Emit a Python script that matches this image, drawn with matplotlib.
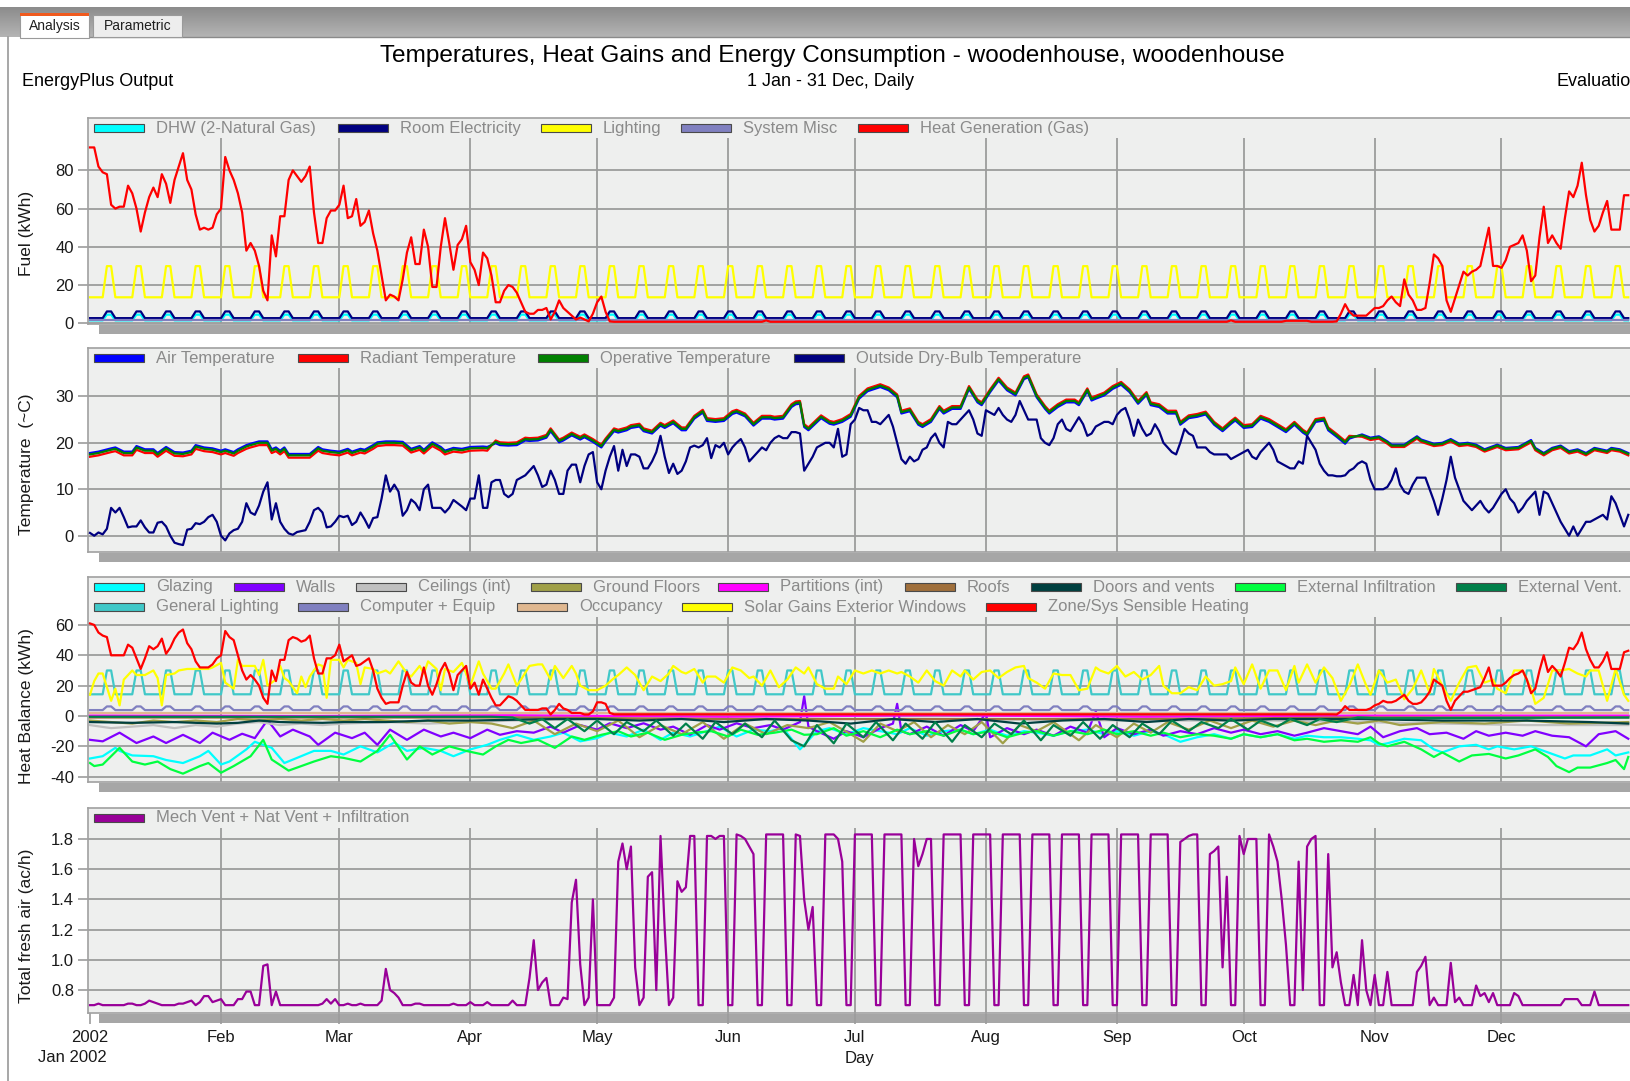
import numpy as np
import pandas as pd
import matplotlib
matplotlib.use('Agg')
import matplotlib.pyplot as plt
from matplotlib.patches import Rectangle
from matplotlib.lines import Line2D
from matplotlib.colors import LinearSegmentedColormap

plt.rcParams['font.family'] = ['Liberation Sans', 'DejaVu Sans']

# ---------------- data (day 0 = 1 Jan 2002) ----------------
month_days = [0, 31, 59, 90, 120, 151, 181, 212, 243, 273, 304, 334]
month_labels = ['2002', 'Feb', 'Mar', 'Apr', 'May', 'Jun', 'Jul', 'Aug', 'Sep', 'Oct', 'Nov', 'Dec']

# weekly schedules, Mon..Sun
dhw_week = [1.5, 1.5, 1.5, 1.5, 1.5, 4.5, 4.5]
room_elec_week = [2.7, 2.7, 2.7, 2.7, 2.7, 6.2, 6.2]
lighting_week = [13.6, 13.6, 13.6, 13.6, 13.6, 29.9, 29.9]
sys_misc_week = [1.5, 1.5, 1.5, 1.5, 1.5, 1.5, 1.5]
gen_light_week = [14.3, 14.3, 14.3, 14.3, 14.3, 30.0, 30.0]
computer_week = [3.9, 3.9, 3.9, 3.9, 3.9, 6.3, 6.3]

# Heat Generation (Gas), kWh
heat_gen_early = [92, 92, 82, 79, 78, 62, 60, 61, 61, 72,
                  68, 60, 48, 58, 66, 71, 66, 78, 73, 63,
                  75, 82, 89, 75, 70, 57, 49, 50, 49, 50,
                  57, 60, 87, 80, 75, 68, 58, 38, 42, 38,
                  30, 17, 12, 46, 35, 56, 56, 75, 80, 77,
                  74, 77, 82, 58, 42, 42, 55, 59, 59, 62,
                  72, 55, 56, 65, 51, 53, 59, 47, 38, 25,
                  12, 15, 14, 12, 23, 37, 45, 31, 31, 49,
                  40, 19, 19, 40, 55, 42, 28, 41, 44, 51,
                  32, 28, 20, 37, 34, 25, 11, 11, 17, 20,
                  19, 16, 11, 6, 5, 5, 7, 7, 8, 2,
                  6, 12, 8, 6, 4, 2, 3, 2, 1, 5,
                  11, 14, 6, 1, 0.8]
heat_gen_summer = [(150, 0.8), (159, 0.8), (160, 1.5), (161, 0.8), (200, 0.8), (269, 0.8),
                   (270, 1.5), (271, 0.8), (282, 0.8), (283, 1.3), (288, 1.3), (289, 0.8), (294, 0.8)]
heat_gen_late = [1, 5, 10, 6, 4, 4, 4, 4, 6, 8,
                 8, 9, 12, 14, 11, 9, 23, 15, 12, 7,
                 7, 8, 21, 36, 34, 30, 12, 6, 13, 20,
                 27, 25, 27, 28, 30, 40, 50, 30, 30, 29,
                 33, 40, 41, 42, 46, 38, 22, 25, 45, 61,
                 42, 46, 42, 39, 55, 69, 66, 72, 84, 67,
                 54, 48, 51, 58, 64, 49, 49, 49, 67, 67]

# Temperatures
temp_days = [0, 2, 5, 6, 8, 10, 11, 13, 15, 16, 18, 20, 22, 24, 25, 27, 29, 31, 32, 34,
             35, 37, 38, 40, 42, 43, 44, 45, 46, 47, 49, 51, 52, 54, 55, 57, 59, 61, 62, 64,
             65, 67, 68, 70, 72, 74, 76, 78, 79, 81, 83, 84, 86, 88, 90, 93, 94, 96, 97, 99,
             101, 103, 104, 106, 108, 109, 111, 112, 114, 116, 117, 119, 121, 122, 124, 125, 127, 128, 130, 131,
             133, 135, 136, 138, 140, 141, 143, 145, 146, 148, 150, 152, 153, 155, 157, 159, 161, 162, 164, 166,
             167, 168, 169, 170, 173, 175, 176, 178, 180, 182, 184, 187, 189, 191, 192, 194, 196, 197, 199, 201,
             202, 204, 206, 208, 210, 211, 213, 215, 217, 219, 221, 222, 224, 226, 227, 229, 231, 233, 234, 236,
             237, 238, 240, 242, 244, 246, 248, 250, 251, 253, 255, 257, 258, 260, 262, 264, 266, 268, 270, 271,
             273, 275, 277, 279, 281, 283, 285, 287, 288, 290, 292, 293, 295, 297, 298, 301, 303, 305, 307, 308,
             311, 314, 315, 318, 320, 322, 324, 326, 328, 330, 333, 335, 338, 341, 342, 344, 346, 348, 350, 352,
             354, 356, 359, 360, 362, 364]
air_temp = [17.8, 18.1, 18.8, 19.0, 18.1, 18.1, 19.3, 18.6, 18.6, 17.8,
            19.1, 18.0, 17.9, 18.3, 19.5, 19.0, 18.8, 18.3, 18.6, 18.0,
            18.6, 19.5, 19.8, 20.3, 20.3, 18.6, 19.0, 18.3, 19.0, 17.6,
            17.6, 17.6, 17.6, 19.1, 18.6, 18.3, 18.1, 18.7, 18.1, 18.7,
            18.5, 19.5, 20.1, 20.3, 20.3, 20.2, 18.7, 19.3, 18.5, 20.1,
            19.1, 18.3, 18.9, 18.7, 19.1, 19.2, 19.1, 19.9, 19.5, 19.4,
            19.5, 20.5, 20.4, 20.5, 21.1, 22.5, 20.1, 20.5, 21.6, 20.7,
            21.2, 20.2, 19.0, 20.3, 22.5, 22.2, 22.7, 23.2, 23.5, 22.5,
            22.0, 23.7, 23.2, 24.2, 22.7, 22.7, 25.2, 26.5, 24.7, 24.5,
            24.7, 26.2, 26.5, 25.7, 23.7, 25.2, 25.2, 25.0, 25.2, 27.7,
            28.3, 28.4, 23.4, 22.7, 25.3, 24.1, 23.9, 24.5, 25.6, 29.5,
            31.1, 32.0, 31.3, 29.8, 26.3, 26.8, 23.9, 23.4, 24.5, 27.3,
            26.3, 27.3, 27.3, 31.6, 28.7, 28.1, 30.9, 33.4, 31.3, 30.2,
            33.7, 34.1, 29.8, 27.3, 26.3, 27.7, 28.7, 28.7, 28.1, 31.1,
            29.1, 29.5, 30.2, 31.6, 32.5, 30.9, 28.4, 30.3, 28.1, 27.7,
            26.3, 26.3, 23.9, 25.3, 25.6, 26.1, 23.9, 22.5, 24.1, 24.8,
            23.2, 23.4, 25.2, 24.5, 23.4, 22.3, 23.9, 22.2, 21.6, 24.5,
            24.8, 22.7, 21.3, 19.8, 20.9, 21.8, 21.1, 21.4, 20.3, 19.6,
            19.6, 21.4, 20.7, 19.8, 20.0, 20.8, 19.8, 20.0, 19.6, 18.6,
            19.6, 18.9, 19.1, 20.6, 18.9, 17.8, 18.9, 19.4, 18.2, 18.6,
            17.8, 18.9, 18.3, 18.9, 18.6, 17.8]
radiant_temp = [17.0, 17.3, 18.0, 18.2, 17.3, 17.3, 18.5, 17.8, 17.8, 17.0,
                18.3, 17.2, 17.1, 17.5, 18.7, 18.2, 18.0, 17.5, 17.8, 17.2,
                17.8, 18.7, 19.0, 19.5, 19.5, 17.8, 18.2, 17.5, 18.2, 16.8,
                16.8, 16.8, 16.8, 18.3, 17.8, 17.5, 17.3, 17.9, 17.3, 17.9,
                17.7, 18.7, 19.3, 19.5, 19.5, 19.4, 17.9, 18.5, 17.7, 19.3,
                18.3, 17.5, 18.1, 17.9, 18.3, 18.4, 18.3, 20.5, 20.1, 20.0,
                20.1, 21.1, 21.0, 21.1, 21.7, 23.1, 20.7, 21.1, 22.2, 21.3,
                21.8, 20.8, 19.6, 20.9, 23.1, 22.8, 23.3, 23.8, 24.1, 23.1,
                22.6, 24.3, 23.8, 24.8, 23.3, 23.3, 25.8, 27.1, 25.3, 25.1,
                25.3, 26.8, 27.1, 26.3, 24.3, 25.8, 25.8, 25.6, 25.8, 28.3,
                28.9, 29.0, 24.0, 23.3, 25.9, 24.7, 24.5, 25.1, 26.2, 30.1,
                31.7, 32.6, 31.9, 30.4, 26.9, 27.4, 24.5, 24.0, 25.1, 27.9,
                26.9, 27.9, 27.9, 32.2, 29.3, 28.7, 31.5, 34.0, 31.9, 30.8,
                34.3, 34.7, 30.4, 27.9, 26.9, 28.3, 29.3, 29.3, 28.7, 31.7,
                29.7, 30.1, 30.8, 32.2, 33.1, 31.5, 29.0, 30.9, 28.7, 28.3,
                26.9, 26.9, 24.5, 25.9, 26.2, 26.7, 24.5, 23.1, 24.7, 25.4,
                23.8, 24.0, 25.8, 25.1, 24.0, 22.9, 24.5, 22.8, 22.2, 25.1,
                25.4, 23.3, 21.9, 20.4, 21.5, 21.3, 20.6, 20.9, 19.8, 19.1,
                19.1, 20.9, 20.2, 19.3, 19.5, 20.3, 19.3, 19.5, 19.1, 18.1,
                19.1, 18.4, 18.6, 20.1, 18.4, 17.3, 18.4, 18.9, 17.7, 18.1,
                17.3, 18.4, 17.8, 18.4, 18.1, 17.3]
operative_temp = [17.5, 17.8, 18.5, 18.7, 17.8, 17.8, 19.0, 18.3, 18.3, 17.5,
                  18.8, 17.7, 17.6, 18.0, 19.2, 18.7, 18.5, 18.0, 18.3, 17.7,
                  18.3, 19.2, 19.5, 20.0, 20.0, 18.3, 18.7, 18.0, 18.7, 17.3,
                  17.3, 17.3, 17.3, 18.8, 18.3, 18.0, 17.8, 18.4, 17.8, 18.4,
                  18.2, 19.2, 19.8, 20.0, 20.0, 19.9, 18.4, 19.0, 18.2, 19.8,
                  18.8, 18.0, 18.6, 18.4, 18.8, 18.9, 18.8, 20.2, 19.8, 19.7,
                  19.8, 20.8, 20.7, 20.8, 21.4, 22.8, 20.4, 20.8, 21.9, 21.0,
                  21.5, 20.5, 19.3, 20.6, 22.8, 22.5, 23.0, 23.5, 23.8, 22.8,
                  22.3, 24.0, 23.5, 24.5, 23.0, 23.0, 25.5, 26.8, 25.0, 24.8,
                  25.0, 26.5, 26.8, 26.0, 24.0, 25.5, 25.5, 25.3, 25.5, 28.0,
                  28.6, 28.7, 23.7, 23.0, 25.6, 24.4, 24.2, 24.8, 25.9, 29.8,
                  31.4, 32.3, 31.6, 30.1, 26.6, 27.1, 24.2, 23.7, 24.8, 27.6,
                  26.6, 27.6, 27.6, 31.9, 29.0, 28.4, 31.2, 33.7, 31.6, 30.5,
                  34.0, 34.4, 30.1, 27.6, 26.6, 28.0, 29.0, 29.0, 28.4, 31.4,
                  29.4, 29.8, 30.5, 31.9, 32.8, 31.2, 28.7, 30.6, 28.4, 28.0,
                  26.6, 26.6, 24.2, 25.6, 25.9, 26.4, 24.2, 22.8, 24.4, 25.1,
                  23.5, 23.7, 25.5, 24.8, 23.7, 22.6, 24.2, 22.5, 21.9, 24.8,
                  25.1, 23.0, 21.6, 20.1, 21.2, 21.6, 20.9, 21.2, 20.1, 19.4,
                  19.4, 21.2, 20.5, 19.6, 19.8, 20.6, 19.6, 19.8, 19.4, 18.4,
                  19.4, 18.7, 18.9, 20.4, 18.7, 17.6, 18.7, 19.2, 18.0, 18.4,
                  17.6, 18.7, 18.1, 18.7, 18.4, 17.6]
outside_temp = [0.6, 0.0, 0.7, 0.3, 1.5, 6.0, 5.0, 6.0, 4.0, 1.8,
                2.0, 2.0, 3.3, 1.8, 0.7, 0.7, 2.8, 3.0, 2.0, 0.0,
                -1.5, -1.8, -2.0, 1.3, 1.5, 2.7, 2.5, 3.0, 4.0, 4.5,
                3.0, 0.0, -1.0, 0.5, 1.2, 1.5, 3.0, 7.0, 5.0, 4.5,
                6.5, 9.5, 11.5, 3.5, 7.0, 3.0, 1.5, 0.5, 0.2, 0.8,
                1.0, 1.2, 3.0, 5.5, 6.0, 5.0, 1.8, 2.0, 3.0, 4.3,
                4.0, 4.3, 2.3, 3.0, 5.0, 3.5, 1.7, 3.8, 4.0, 8.0,
                13.0, 9.5, 11.0, 9.5, 4.3, 5.5, 7.8, 7.0, 5.5, 10.0,
                11.0, 6.0, 6.0, 6.0, 5.0, 6.0, 7.7, 7.0, 6.3, 5.5,
                8.0, 8.0, 13.0, 6.0, 6.0, 11.5, 12.0, 12.0, 9.0, 8.3,
                9.0, 12.0, 12.5, 13.0, 14.0, 15.0, 13.0, 10.5, 11.0, 14.0,
                12.0, 9.0, 9.0, 14.0, 15.3, 15.3, 11.5, 15.0, 17.5, 18.0,
                11.5, 10.0, 14.0, 17.0, 19.3, 14.0, 18.5, 15.0, 17.5, 17.5,
                17.0, 14.5, 14.5, 16.0, 18.0, 21.5, 17.0, 13.5, 15.5, 13.3,
                14.0, 16.0, 19.0, 19.4, 19.0, 19.5, 21.0, 16.7, 19.5, 19.0,
                20.0, 17.5, 19.0, 20.0, 20.8, 19.0, 16.0, 17.0, 18.0, 19.0,
                18.4, 20.0, 21.0, 21.5, 21.0, 21.0, 22.3, 22.3, 22.0, 14.0,
                15.5, 17.0, 19.0, 19.5, 20.0, 20.0, 19.0, 23.0, 17.0, 17.5,
                24.0, 25.0, 27.5, 27.0, 27.0, 24.5, 24.5, 24.0, 25.0, 26.0,
                23.5, 20.0, 16.5, 15.5, 17.0, 16.0, 16.5, 18.5, 19.0, 21.0,
                22.0, 20.0, 19.0, 24.5, 24.0, 24.0, 25.0, 26.0, 27.0, 25.0,
                22.0, 21.5, 27.0, 26.5, 26.0, 27.5, 26.0, 25.0, 24.5, 26.0,
                29.0, 27.0, 25.0, 25.0, 25.0, 21.0, 20.0, 19.5, 21.0, 24.0,
                25.0, 23.0, 22.5, 24.0, 25.5, 24.0, 21.5, 22.0, 23.5, 24.0,
                24.5, 24.5, 24.0, 26.0, 27.0, 27.5, 25.0, 21.5, 25.0, 23.0,
                21.5, 22.0, 24.0, 22.5, 20.0, 19.0, 18.0, 17.5, 20.0, 23.0,
                22.0, 21.5, 19.0, 19.0, 19.0, 18.0, 17.5, 17.5, 17.5, 17.5,
                16.5, 17.0, 17.5, 18.0, 18.5, 17.0, 16.5, 18.0, 19.0, 20.0,
                18.5, 16.0, 15.5, 15.0, 14.5, 14.5, 16.0, 15.5, 21.5, 20.0,
                18.5, 15.5, 14.0, 13.0, 13.0, 12.8, 12.8, 13.0, 14.0, 14.5,
                15.5, 16.0, 15.5, 12.0, 10.0, 10.0, 10.0, 10.5, 12.0, 14.5,
                11.0, 9.5, 9.0, 11.0, 12.5, 12.5, 12.5, 10.0, 7.5, 4.5,
                8.0, 12.0, 17.0, 12.5, 10.0, 7.5, 6.5, 5.5, 6.5, 7.5,
                6.0, 5.0, 6.0, 7.5, 9.0, 10.0, 8.0, 7.0, 5.0, 6.0,
                7.5, 8.5, 9.5, 4.5, 9.5, 9.0, 7.0, 5.0, 3.0, 1.5,
                0.0, 2.0, 0.0, 1.5, 3.0, 3.0, 3.5, 4.0, 4.5, 3.5,
                8.5, 7.0, 4.5, 2.0, 4.5]

# Heat balance, kWh  (day, value)
glazing = [(0, -28), (3, -26.5), (6, -21), (7, -23), (10, -26), (15, -26.5), (18, -29), (22, -31),
           (26, -26.5), (28, -23), (31, -32), (33, -30), (37, -22), (39, -17), (43, -21), (46, -31),
           (49, -27.6), (53, -23), (57, -23), (60, -25.4), (64, -20), (68, -24), (72, -17.4), (75, -23),
           (79, -21), (83, -23), (86, -26.5), (90, -22), (94, -19), (97, -15.7), (101, -12.4), (105, -15.7),
           (109, -13.5), (112, -11), (116, -16.7), (120, -14.6), (123, -11), (127, -13.5), (131, -9),
           (135, -15.7), (138, -11), (142, -13.5), (146, -10), (149, -7), (153, -13.5), (157, -9),
           (161, -10), (164, -8), (168, -22), (172, -10), (175, -8), (179, -12), (183, -8), (187, -10),
           (191, -12), (194, -8), (198, -13), (202, -10), (206, -9), (209, -12), (213, -9), (217, -13),
           (221, -10), (224, -11), (228, -13), (232, -10), (236, -9), (240, -12), (243, -10), (247, -13),
           (251, -10), (254, -12), (258, -17), (262, -14), (266, -12), (270, -15), (273, -12), (277, -14),
           (281, -12), (285, -15), (288, -13), (292, -14), (296, -14), (300, -15), (303, -16), (305, -19),
           (307, -18), (311, -15), (315, -16), (318, -22), (320, -24), (324, -20), (328, -19), (331, -22),
           (333, -20), (337, -22), (341, -20), (345, -24), (349, -28), (351, -26), (355, -26), (359, -22),
           (361, -26), (364, -24)]
walls = [(0, -15.7), (3, -16.7), (7, -11), (11, -17.8), (15, -13.5), (18, -17.8), (22, -12.4), (26, -17.8),
         (29, -11), (33, -15.7), (36, -11.7), (39, -14.6), (42, -2.6), (45, -13.5), (48, -9), (52, -13.5),
         (54, -19), (58, -11), (62, -14.6), (65, -11), (68, -19), (71, -9), (75, -15.7), (79, -9),
         (83, -13.5), (86, -11), (90, -14.6), (94, -9), (97, -12.4), (101, -10), (105, -11), (109, -7),
         (112, -11), (116, -6), (120, -9), (123, -4.8), (127, -8), (131, -4.8), (135, -9), (138, -7),
         (142, -12.4), (146, -6), (149, -9), (153, -4.8), (157, -8), (161, -6), (164, -9), (168, -4),
         (169, 13), (170, -7), (172, -10), (176, -15), (179, -10), (183, -14), (187, -8), (190, -5),
         (191, 8), (192, -10), (194, -12), (198, -7), (202, -13), (206, -6), (209, -10), (212, 2),
         (213, -14), (217, -8), (221, -12), (224, -9), (228, -13), (232, -7), (236, -11), (238, 3),
         (240, -14), (243, -8), (247, -12), (251, -9), (254, -13), (258, -10), (262, -12), (266, -8),
         (270, -11), (273, -9), (277, -12), (281, -10), (285, -13), (288, -11), (292, -8), (296, -10),
         (300, -12), (303, -7), (306, -14), (310, -10), (314, -8), (317, -12), (321, -11), (325, -15),
         (328, -10), (331, -13), (335, -11), (339, -13), (342, -10), (346, -13), (350, -14), (354, -20),
         (357, -12), (361, -10), (364, -15)]
ceilings = [(0, -6), (5, -8), (10, -7), (15, -6), (20, -8), (25, -6), (30, -7), (35, -5), (40, -4),
            (45, -6), (50, -5), (55, -6), (60, -5), (70, -4), (80, -5), (90, -4), (100, -3), (120, -2),
            (150, -2), (200, -2), (250, -3), (280, -3), (300, -4), (320, -5), (340, -6), (364, -6)]
ground_floors = [(0, -3), (5, -4), (10, -5), (15, -3), (20, -4), (25, -3), (30, -4), (35, -2), (40, -3),
                 (45, -2), (50, -3), (55, -2), (60, -3), (65, -2), (70, -3), (75, -4), (80, -3), (85, -5),
                 (90, -4), (95, -5), (100, -8), (105, -3), (110, -12), (115, -5), (120, -10), (125, -3),
                 (130, -14), (135, -6), (140, -12), (145, -4), (150, -15), (155, -5), (160, -12), (165, -6),
                 (170, -8), (175, -4), (180, -12), (183, -17), (187, -5), (191, -10), (195, -4), (199, -14),
                 (203, -6), (207, -12), (211, -4), (216, -18), (220, -6), (224, -10), (228, -4), (234, -16),
                 (238, -6), (243, -14), (247, -5), (251, -11), (255, -4), (260, -9), (265, -3), (270, -8),
                 (275, -3), (280, -7), (285, -3), (290, -6), (295, -3), (300, -5), (305, -3), (310, -6),
                 (320, -4), (330, -5), (340, -3), (350, -5), (364, -4)]
partitions = [(0, 0.3), (50, 0.0), (100, 0.5), (150, -0.5), (200, 0.5), (250, -0.5), (300, 0.3), (364, 0.3)]
roofs = [(0, -1), (100, -1), (150, -2), (200, -2), (250, -2), (300, -1), (364, -1)]
doors_vents = [(0, -4), (10, -4.5), (20, -4), (30, -5), (35, -4.5), (40, -3), (45, -4), (55, -4.5),
               (60, -4), (70, -4), (80, -3), (90, -3), (100, -2.5), (110, -2), (120, -2), (130, -3),
               (140, -2), (150, -4), (160, -2), (170, -3), (180, -5), (190, -2), (200, -4), (210, -2),
               (220, -5), (230, -3), (240, -2), (250, -4), (260, -2), (270, -3), (280, -2), (290, -2),
               (300, -2), (320, -3), (340, -3), (355, -4), (364, -5)]
ext_infiltration = [(0, -31), (1, -33), (3, -32), (7, -21), (10, -30), (13, -32), (16, -30), (19, -35),
                    (22, -38), (26, -33), (28, -31), (31, -37.4), (34, -33), (38, -26.5), (41, -15.7),
                    (43, -28.7), (47, -36), (49, -34), (53, -30), (57, -26.5), (60, -27.6), (64, -30),
                    (68, -23), (71, -12.4), (75, -28.7), (78, -20), (81, -25.4), (85, -20), (89, -23),
                    (93, -25.4), (96, -20), (99, -15.7), (102, -17.8), (106, -15.7), (110, -21), (114, -13.5),
                    (117, -15.7), (121, -12.4), (125, -10), (128, -13.5), (132, -11), (136, -15.7),
                    (140, -12.4), (143, -11), (147, -10), (151, -13.5), (154, -9), (158, -12.4), (162, -11),
                    (166, -9), (169, -12.4), (172, -12), (176, -8), (179, -13), (183, -10), (187, -14),
                    (191, -9), (194, -12), (198, -10), (202, -13), (206, -9), (209, -12), (213, -10),
                    (217, -14), (221, -11), (224, -10), (228, -13), (232, -10), (236, -12), (240, -9),
                    (243, -12), (247, -10), (251, -13), (254, -11), (258, -14), (262, -12), (266, -13),
                    (270, -15), (273, -12), (277, -14), (281, -12), (285, -16), (288, -15), (292, -17),
                    (296, -16), (300, -17), (303, -14), (305, -18), (307, -20), (311, -17), (315, -22),
                    (318, -27), (320, -24), (324, -30), (327, -26), (331, -25), (335, -28), (338, -26),
                    (342, -22), (345, -27), (347, -33), (350, -37), (352, -34), (355, -34), (359, -31),
                    (361, -29), (363, -35), (364, -27)]
ext_vent = [(0, -0.5), (30, -0.5), (60, -0.5), (95, -0.5), (100, -1), (104, -5), (107, -2), (110, -8),
            (113, -2), (117, -10), (120, -3), (124, -12), (127, -4), (131, -10), (134, -3), (138, -13),
            (141, -5), (145, -15), (148, -4), (152, -12), (155, -5), (159, -14), (162, -3), (166, -16),
            (169, -20), (172, -6), (176, -18), (179, -5), (183, -14), (186, -4), (190, -16), (193, -5),
            (197, -15), (200, -4), (204, -17), (207, -6), (211, -14), (214, -5), (218, -12), (221, -3),
            (225, -16), (228, -6), (232, -13), (235, -4), (239, -15), (242, -6), (246, -14), (249, -5),
            (253, -12), (256, -3), (260, -10), (263, -4), (267, -8), (270, -2), (274, -9), (277, -3),
            (281, -7), (284, -2), (288, -6), (291, -2), (295, -4), (300, -1), (305, -1.5), (364, -1)]
occupancy = [(0, 1.8), (364, 1.8)]
solar_gains = [(0, 14), (1, 23), (2, 28), (3, 28), (5, 10), (6, 18), (7, 7), (8, 24), (10, 30), (11, 27),
               (13, 27), (15, 30), (16, 25), (17, 7), (18, 27), (20, 28), (21, 30), (23, 31), (26, 31),
               (28, 31), (29, 32), (31, 35), (32, 22), (34, 18), (35, 37), (36, 33), (38, 33), (39, 33),
               (40, 27), (41, 37), (42, 20), (44, 24), (45, 33), (46, 25), (47, 23), (49, 15), (50, 26),
               (51, 19), (52, 26), (54, 34), (55, 33), (56, 12), (57, 37), (59, 37), (60, 32), (61, 37),
               (63, 35), (64, 21), (65, 32), (67, 31), (68, 28), (70, 30), (71, 28), (73, 36), (75, 28),
               (76, 26), (78, 33), (79, 28), (80, 36), (82, 31), (83, 17), (84, 31), (86, 29), (88, 35),
               (89, 28), (90, 20), (92, 36), (93, 28), (95, 18), (96, 18), (98, 28), (99, 34), (101, 20),
               (102, 24), (104, 33), (106, 34), (107, 34), (109, 24), (110, 33), (112, 25), (114, 33),
               (115, 28), (116, 20), (118, 17), (120, 17), (122, 20), (124, 25), (125, 27), (127, 32),
               (129, 27), (131, 17), (133, 26), (135, 23), (137, 28), (138, 33), (140, 29), (141, 28),
               (143, 31), (145, 22), (146, 26), (148, 26), (150, 22), (152, 32), (154, 30), (156, 25),
               (157, 26), (159, 20), (161, 30), (163, 19), (165, 24), (167, 32), (169, 28), (170, 32),
               (172, 21), (174, 18), (176, 18), (177, 26), (179, 21), (181, 30), (183, 28), (185, 30),
               (187, 28), (189, 30), (191, 28), (192, 29), (194, 26), (196, 22), (198, 30), (200, 23),
               (202, 20), (204, 30), (206, 26), (207, 30), (209, 24), (211, 29), (213, 30), (215, 25),
               (217, 29), (219, 32), (221, 33), (222, 25), (224, 22), (226, 18), (228, 28), (230, 27),
               (232, 27), (234, 17), (236, 18), (238, 32), (239, 30), (241, 28), (243, 33), (245, 26),
               (247, 29), (249, 24), (251, 27), (253, 33), (254, 20), (256, 15), (258, 15), (260, 19),
               (262, 17), (264, 26), (266, 20), (268, 21), (270, 23), (271, 32), (273, 21), (275, 34),
               (277, 18), (279, 30), (281, 30), (283, 17), (285, 33), (286, 22), (288, 34), (290, 22),
               (292, 32), (294, 25), (296, 10), (298, 20), (300, 34), (302, 20), (303, 14), (305, 30),
               (307, 22), (309, 24), (311, 11), (313, 18), (315, 30), (317, 15), (318, 31), (320, 20),
               (322, 10), (324, 22), (326, 32), (328, 33), (330, 22), (332, 24), (333, 18), (335, 15),
               (337, 30), (339, 30), (341, 18), (342, 8), (344, 12), (346, 30), (348, 30), (350, 31),
               (352, 28), (354, 26), (355, 30), (357, 30), (359, 10), (361, 31), (363, 14), (364, 10)]
zone_heating_early = [61, 60, 55, 53, 52, 40, 40, 40, 40, 47,
                      45, 38, 31, 38, 46, 44, 46, 51, 41, 45,
                      51, 55, 57, 48, 44, 36, 32, 32, 32, 34,
                      38, 40, 56, 52, 50, 40, 30, 24, 27, 24,
                      20, 12, 8, 30, 23, 37, 37, 50, 52, 51,
                      49, 50, 53, 38, 28, 28, 38, 38, 40, 47,
                      36, 38, 40, 33, 34, 36, 38, 30, 18, 12,
                      8, 9, 9, 9, 20, 29, 22, 20, 20, 32,
                      20, 14, 21, 30, 35, 28, 17, 27, 30, 33,
                      18, 22, 14, 24, 18, 12, 7, 7, 10, 13,
                      12, 10, 7, 4, 4, 4, 4, 5, 5, 1,
                      4, 8, 5, 4, 2, 2, 2, 1, 1, 3,
                      9, 9, 8, 2, 1.1]
zone_heating_summer = [(150, 1.1), (200, 1.1), (250, 1.1), (294, 1.1)]
zone_heating_late = [1, 3, 6.5, 4, 4, 4, 4, 4, 5, 7,
                     8, 10, 9, 9, 10, 12, 14, 10, 8, 8,
                     9, 12, 16, 24, 22, 20, 10, 4, 10, 13,
                     16, 16, 17, 18, 19, 25, 32, 20, 20, 20,
                     22, 25, 27, 28, 30, 24, 15, 18, 30, 40,
                     29, 33, 30, 26, 35, 45, 44, 48, 55, 44,
                     37, 32, 32, 36, 42, 31, 31, 31, 42, 43]

# Mech Vent + Nat Vent + Infiltration, ac/h, one value per day
fresh_air = [0.70, 0.70, 0.71, 0.70, 0.70, 0.70, 0.70, 0.70, 0.70, 0.71,
             0.71, 0.70, 0.70, 0.71, 0.73, 0.72, 0.71, 0.70, 0.70, 0.70,
             0.70, 0.71, 0.71, 0.72, 0.73, 0.70, 0.72, 0.76, 0.76, 0.72,
             0.73, 0.74, 0.70, 0.70, 0.70, 0.74, 0.74, 0.79, 0.79, 0.70,
             0.70, 0.96, 0.97, 0.70, 0.79, 0.70, 0.70, 0.70, 0.70, 0.70,
             0.70, 0.70, 0.70, 0.70, 0.70, 0.71, 0.74, 0.71, 0.74, 0.70,
             0.70, 0.71, 0.70, 0.70, 0.71, 0.70, 0.70, 0.70, 0.70, 0.73,
             0.94, 0.80, 0.78, 0.75, 0.70, 0.70, 0.70, 0.71, 0.71, 0.70,
             0.70, 0.70, 0.70, 0.70, 0.70, 0.70, 0.71, 0.70, 0.70, 0.70,
             0.72, 0.70, 0.70, 0.70, 0.72, 0.70, 0.70, 0.70, 0.70, 0.70,
             0.73, 0.70, 0.70, 0.70, 0.88, 1.13, 0.80, 0.85, 0.88, 0.70,
             0.70, 0.70, 0.75, 0.74, 1.38, 1.53, 0.97, 0.70, 0.75, 1.40,
             0.70, 0.70, 0.70, 0.70, 0.75, 1.65, 1.77, 1.60, 1.75, 0.95,
             0.70, 0.75, 1.55, 1.58, 0.80, 1.82, 1.20, 0.70, 0.75, 1.52,
             1.45, 1.48, 1.82, 1.82, 0.70, 0.70, 1.82, 1.82, 1.80, 1.82,
             1.82, 0.70, 0.70, 1.83, 1.82, 1.80, 1.75, 1.70, 0.70, 0.70,
             1.83, 1.83, 1.83, 1.83, 1.83, 0.70, 0.70, 1.83, 1.82, 1.40,
             1.20, 1.35, 0.70, 0.70, 1.83, 1.83, 1.83, 1.80, 1.65, 0.70,
             0.70, 1.83, 1.83, 1.83, 1.83, 1.83, 0.70, 0.70, 1.83, 1.83,
             1.83, 1.83, 1.83, 0.70, 0.70, 1.80, 1.62, 1.70, 1.80, 1.80,
             0.70, 0.70, 1.83, 1.83, 1.83, 1.83, 1.83, 0.70, 0.70, 1.83,
             1.83, 1.83, 1.83, 1.83, 0.70, 0.70, 1.83, 1.83, 1.83, 1.83,
             1.83, 0.70, 0.70, 1.83, 1.83, 1.83, 1.83, 1.83, 0.70, 0.70,
             1.83, 1.83, 1.83, 1.83, 1.83, 0.70, 0.70, 1.83, 1.83, 1.83,
             1.83, 1.83, 0.70, 0.70, 1.83, 1.83, 1.83, 1.83, 1.83, 0.70,
             0.70, 1.83, 1.83, 1.83, 1.83, 1.83, 0.70, 0.70, 1.78, 1.80,
             1.82, 1.83, 1.83, 0.70, 0.70, 1.70, 1.72, 1.75, 0.95, 1.55,
             0.70, 0.70, 1.82, 1.70, 1.80, 1.80, 1.80, 0.70, 0.70, 1.83,
             1.75, 1.65, 1.40, 1.10, 0.70, 0.70, 1.65, 0.80, 1.75, 1.80,
             1.82, 0.70, 0.70, 1.70, 0.95, 1.05, 0.85, 0.70, 0.70, 0.90,
             0.70, 1.13, 0.80, 0.70, 0.90, 0.70, 0.70, 0.92, 0.70, 0.70,
             0.70, 0.70, 0.70, 0.70, 0.92, 0.96, 1.02, 0.70, 0.75, 0.70,
             0.70, 0.70, 0.98, 0.72, 0.75, 0.70, 0.70, 0.70, 0.83, 0.76,
             0.78, 0.72, 0.78, 0.70, 0.70, 0.70, 0.70, 0.78, 0.76, 0.70,
             0.70, 0.70, 0.70, 0.70, 0.70, 0.70, 0.70, 0.70, 0.70, 0.74,
             0.74, 0.74, 0.74, 0.70, 0.70, 0.70, 0.79, 0.70, 0.70, 0.70,
             0.70, 0.70, 0.70, 0.70, 0.70]

# ---------------- build series ----------------
days = np.arange(365)
dow = pd.date_range('2002-01-01', periods=365).dayofweek.values


def weekly(week):
    return np.array(week)[dow]


def unzip(pts):
    return [p[0] for p in pts], [p[1] for p in pts]


heat_days = list(range(0, 125)) + [p[0] for p in heat_gen_summer] + list(range(295, 365))
heat_vals = heat_gen_early + [p[1] for p in heat_gen_summer] + heat_gen_late
zone_days = list(range(0, 125)) + [p[0] for p in zone_heating_summer] + list(range(295, 365))
zone_vals = zone_heating_early + [p[1] for p in zone_heating_summer] + zone_heating_late

# ---------------- figure ----------------
W, H = 1631, 1081
fig = plt.figure(figsize=(W / 100, H / 100), dpi=100)

PX_DAY = 4.226
XL0 = -2 / PX_DAY
XL1 = XL0 + (1640 - 88) / PX_DAY
GRID = '#9C9C9C'
FRAME_BG = '#EEEFEE'
LEG_TXT = '#8A8A8A'


def rect(x0, y0, x1, y1, **kw):
    r = Rectangle((x0 / W, 1 - y1 / H), (x1 - x0) / W, (y1 - y0) / H,
                  transform=fig.transFigure, **kw)
    fig.add_artist(r)
    return r


def hline(x0, x1, y, **kw):
    fig.add_artist(Line2D([x0 / W, x1 / W], [1 - y / H, 1 - y / H], transform=fig.transFigure, **kw))


def vline(x, y0, y1, **kw):
    fig.add_artist(Line2D([x / W, x / W], [1 - y0 / H, 1 - y1 / H], transform=fig.transFigure, **kw))


def ftext(x, y, s, **kw):
    return fig.text(x / W, 1 - y / H, s, **kw)


# window chrome: tab bar
bar = fig.add_axes([0, 1 - 37 / H, 1, 30 / H], zorder=-5)
bar.imshow(np.linspace(0, 1, 30)[:, None], aspect='auto',
           cmap=LinearSegmentedColormap.from_list('bar', ['#8C8C8C', '#B4B4B4']))
bar.axis('off')
rect(20, 13, 89, 38, facecolor='white', edgecolor='#9A9A9A', lw=0.8, zorder=3)
rect(20, 13, 89, 16, facecolor='#F05A1E', edgecolor='none', zorder=4)
rect(93, 15, 182, 37, facecolor='#EDEDED', edgecolor='#9A9A9A', lw=0.8, zorder=3)
ftext(54.5, 26, 'Analysis', ha='center', va='center', fontsize=10, color='#202020', zorder=5)
ftext(137.5, 26, 'Parametric', ha='center', va='center', fontsize=10, color='#202020', zorder=5)
hline(89, W, 37, color='#8A8A8A', lw=1.0, zorder=2)
vline(8.5, 37, H, color='#A0A0A0', lw=1.3, zorder=2)

# headings
ftext(832, 56, 'Temperatures, Heat Gains and Energy Consumption - woodenhouse, woodenhouse',
      ha='center', va='center', fontsize=17.6, color='black')
ftext(22, 82, 'EnergyPlus Output', ha='left', va='center', fontsize=13, color='black')
ftext(831, 82, '1 Jan - 31 Dec, Daily', ha='center', va='center', fontsize=13, color='black')
# the window cuts this label at its right edge, as in the original screenshot
ftext(1557, 82, 'Evaluation', ha='left', va='center', fontsize=13, color='black')


def make_panel(y0, y1, ylo, yhi, gtop, ticks, ticklabels, ylabel, ylabel_y):
    ax = fig.add_axes([88 / W, 1 - y1 / H, (1640 - 88) / W, (y1 - y0) / H])
    ax.set_facecolor(FRAME_BG)
    ax.set_xlim(XL0, XL1)
    ax.set_ylim(ylo, yhi)
    for s in ax.spines.values():
        s.set_color('#A0A0A0')
        s.set_linewidth(1.2)
    ax.hlines(ticks, XL0, XL1, color=GRID, lw=1.3, zorder=1)
    ax.vlines(month_days[1:], ylo, gtop, color=GRID, lw=1.3, zorder=1)
    ax.set_yticks(ticks)
    ax.set_yticklabels(ticklabels)
    ax.tick_params(axis='y', length=7, width=1.2, color=GRID, labelsize=12,
                   labelcolor='#1A1A1A', pad=3)
    ax.set_xticks(month_days)
    ax.tick_params(axis='x', length=0, labelbottom=False)
    rect(99, y1 + 1, W + 5, y1 + 10, facecolor='#A6A6A6', edgecolor='none', zorder=-1)
    ftext(27, ylabel_y, ylabel, rotation=90, ha='center', va='center', fontsize=12.5, color='#1A1A1A')
    return ax


def legend_row(y, entries):
    for label, color, x in entries:
        rect(x, y - 4, x + 50, y + 4, facecolor=color, edgecolor='#4A4A4A', lw=0.8, zorder=6)
        ftext(x + 62, y, label, ha='left', va='center', fontsize=12, color=LEG_TXT, zorder=6)


LW = 1.6

# ---- panel 1: fuel ----
ax1 = make_panel(118, 324, -0.37, 107.4, 96.7, [0, 20, 40, 60, 80],
                 ['0', '20', '40', '60', '80'], 'Fuel (kWh)', 233)
c_dhw, c_room, c_light, c_sys, c_heat = '#00FFFF', '#000080', '#FFFF00', '#8080C0', '#FF0000'
ax1.plot(days, weekly(dhw_week), color=c_dhw, lw=LW, zorder=2)
ax1.plot(days, weekly(room_elec_week), color=c_room, lw=LW, zorder=2)
ax1.plot(days, weekly(lighting_week), color=c_light, lw=LW, zorder=2)
ax1.plot(days, weekly(sys_misc_week), color=c_sys, lw=LW, zorder=2)
ax1.plot(heat_days, heat_vals, color=c_heat, lw=LW, zorder=3)
legend_row(128, [('DHW (2-Natural Gas)', c_dhw, 94), ('Room Electricity', c_room, 338),
                 ('Lighting', c_light, 541), ('System Misc', c_sys, 681),
                 ('Heat Generation (Gas)', c_heat, 858)])

# ---- panel 2: temperatures ----
ax2 = make_panel(348, 552, -3.5, 40.4, 36.1, [0, 10, 20, 30],
                 ['0', '10', '20', '30'], 'Temperature  (~C)', 464)
c_air, c_rad, c_op, c_out = '#0000FF', '#FF0000', '#008000', '#000080'
ax2.plot(temp_days, air_temp, color=c_air, lw=LW, zorder=2)
ax2.plot(temp_days, radiant_temp, color=c_rad, lw=LW, zorder=2)
ax2.plot(temp_days, operative_temp, color=c_op, lw=LW, zorder=3)
ax2.plot(days, outside_temp, color=c_out, lw=LW, zorder=3)
legend_row(358, [('Air Temperature', c_air, 94), ('Radiant Temperature', c_rad, 298),
                 ('Operative Temperature', c_op, 538), ('Outside Dry-Bulb Temperature', c_out, 794)])

# ---- panel 3: heat balance ----
ax3 = make_panel(577, 782, -43.5, 91.6, 65.3, [-40, -20, 0, 20, 40, 60],
                 ['-40', '-20', '0', '20', '40', '60'], 'Heat Balance (kWh)', 706)
hb = [('Glazing', '#00FFFF', glazing), ('Walls', '#8000FF', walls),
      ('Ceilings (int)', '#C0C0C0', ceilings), ('Ground Floors', '#A0A048', ground_floors),
      ('Partitions (int)', '#FF00FF', partitions), ('Roofs', '#A0703C', roofs),
      ('Doors and vents', '#004040', doors_vents), ('External Infiltration', '#00FF40', ext_infiltration),
      ('External Vent.', '#00804A', ext_vent)]
for label, color, pts in hb:
    d, v = unzip(pts)
    ax3.plot(d, v, color=color, lw=LW, zorder=2)
c_gl, c_comp, c_occ, c_sol, c_zone = '#40C8C8', '#8080C0', '#E0B890', '#FFFF00', '#FF0000'
ax3.plot(days, weekly(gen_light_week), color=c_gl, lw=LW, zorder=2)
ax3.plot(days, weekly(computer_week), color=c_comp, lw=LW, zorder=2)
d, v = unzip(occupancy)
ax3.plot(d, v, color=c_occ, lw=LW, zorder=2)
d, v = unzip(solar_gains)
ax3.plot(d, v, color=c_sol, lw=LW, zorder=2)
ax3.plot(zone_days, zone_vals, color=c_zone, lw=LW, zorder=3)
row1_x = [94, 234, 356, 531, 718, 905, 1031, 1235, 1456]
legend_row(587, [(lab, col, x) for (lab, col, _), x in zip(hb, row1_x)])
legend_row(607, [('General Lighting', c_gl, 94), ('Computer + Equip', c_comp, 298),
                 ('Occupancy', c_occ, 517), ('Solar Gains Exterior Windows', c_sol, 682),
                 ('Zone/Sys Sensible Heating', c_zone, 986)])

# ---- panel 4: fresh air ----
ax4 = make_panel(808, 1013, 0.648, 2.005, 1.873, [0.8, 1.0, 1.2, 1.4, 1.6, 1.8],
                 ['0.8', '1.0', '1.2', '1.4', '1.6', '1.8'], 'Total fresh air (ac/h)', 926)
c_air4 = '#990099'
ax4.plot(days, fresh_air, color=c_air4, lw=LW, zorder=2)
legend_row(818, [('Mech Vent + Nat Vent + Infiltration', c_air4, 94)])
ax4.set_xticklabels(month_labels)
ax4.tick_params(axis='x', length=8, width=1.2, color=GRID, labelbottom=True,
                labelsize=12, labelcolor='#1A1A1A', pad=4)
ftext(72, 1058, 'Jan 2002', ha='center', va='center', fontsize=12, color='#1A1A1A')
ftext(859, 1058, 'Day', ha='center', va='center', fontsize=12, color='#1A1A1A')

fig.savefig('out.png', dpi=100)
